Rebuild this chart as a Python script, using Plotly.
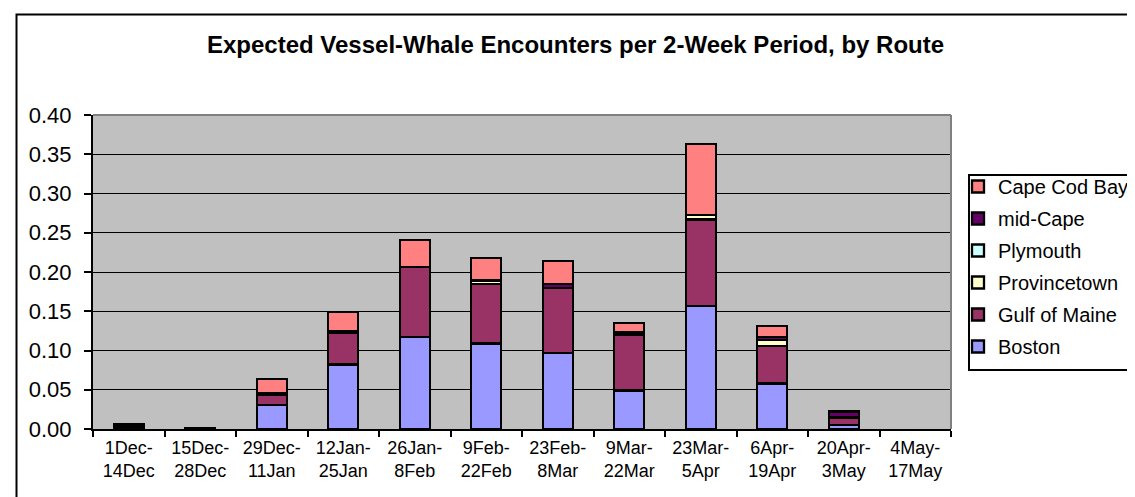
import plotly.graph_objects as go

periods = ["1Dec-<br>14Dec", "15Dec-<br>28Dec", "29Dec-<br>11Jan", "12Jan-<br>25Jan",
           "26Jan-<br>8Feb", "9Feb-<br>22Feb", "23Feb-<br>8Mar", "9Mar-<br>22Mar",
           "23Mar-<br>5Apr", "6Apr-<br>19Apr", "20Apr-<br>3May", "4May-<br>17May"]

boston = [0.001, 0.0005, 0.031, 0.082, 0.117, 0.109, 0.097, 0.049, 0.157, 0.058, 0.005, None]
gulf_of_maine = [0.001, None, 0.012, 0.040, 0.089, 0.076, 0.083, 0.071, 0.110, 0.048, 0.0095, None]
provincetown = [None, None, None, None, None, 0.004, None, None, 0.006, 0.007, None, None]
plymouth = [None, None, None, None, None, None, None, None, None, None, None, None]
mid_cape = [0.003, 0.001, 0.003, 0.003, None, None, 0.005, 0.003, None, 0.004, 0.0075, None]
cape_cod_bay = [0.001, None, 0.018, 0.024, 0.035, 0.029, 0.029, 0.012, 0.090, 0.014, 0.001, None]

series = [
    ("Boston", boston, "#9999FF"),
    ("Gulf of Maine", gulf_of_maine, "#993366"),
    ("Provincetown", provincetown, "#FFFFCC"),
    ("Plymouth", plymouth, "#CCFFFF"),
    ("mid-Cape", mid_cape, "#660066"),
    ("Cape Cod Bay", cape_cod_bay, "#FF8080"),
]

W, H = 1135, 497
L, R, T, B = 85, 943, 107, 421
PW, PH = R - L, B - T


def px(x):
    return (x - L) / PW


def py(y):
    return (B - y) / PH


fig = go.Figure()
for i, (name, vals, col) in enumerate(series):
    fig.add_trace(go.Bar(
        x=periods, y=vals, name=name, legendgroup=name,
        legendrank=1000 - i,
        marker=dict(color=col, line=dict(color="black", width=2.3)),
    ))

shapes = [
    # outer chart frame
    dict(type="rect", xref="paper", yref="paper",
         x0=px(8.5), x1=px(1140), y0=py(505), y1=py(6.5),
         line=dict(color="black", width=2), fillcolor="rgba(0,0,0,0)", layer="above"),
    # plot area top and right border (gray)
    dict(type="line", xref="paper", yref="paper", x0=0, x1=1, y0=1, y1=1,
         line=dict(color="#808080", width=2), layer="above"),
    dict(type="line", xref="paper", yref="paper", x0=1, x1=1, y0=0, y1=1,
         line=dict(color="#808080", width=2), layer="above"),
    # legend box
    dict(type="rect", xref="paper", yref="paper",
         x0=px(961), x1=px(1145), y0=py(362), y1=py(167),
         line=dict(color="black", width=2), fillcolor="white", layer="below"),
]

fig.update_layout(
    width=W, height=H,
    margin=dict(l=L, r=W - R, t=T, b=H - B, autoexpand=False),
    paper_bgcolor="white",
    plot_bgcolor="#C0C0C0",
    barmode="stack",
    bargap=0.58,
    font=dict(family="Liberation Sans, Arial, sans-serif", color="black"),
    title=dict(text="<b>Expected Vessel-Whale Encounters per 2-Week Period, by Route</b>",
               x=0.5, xref="container", xanchor="center",
               y=1 - 37 / H, yref="container", yanchor="middle",
               font=dict(size=24, color="black")),
    legend=dict(traceorder="grouped", tracegroupgap=3,
                x=px(950), y=py(159), xanchor="left", yanchor="top",
                xref="paper", yref="paper",
                font=dict(size=20, color="black"), bgcolor="rgba(0,0,0,0)",
                borderwidth=0, itemclick=False),
    shapes=shapes,
    xaxis=dict(showline=True, linecolor="black", linewidth=2,
               ticks="outside", tickson="boundaries", ticklen=6, tickwidth=2, tickcolor="black",
               tickfont=dict(size=18), showgrid=False, ticklabelstandoff=1),
    yaxis=dict(range=[0, 0.4], dtick=0.05, tickformat=".2f",
               showline=True, linecolor="black", linewidth=2,
               ticks="outside", ticklen=7, tickwidth=2, tickcolor="black",
               tickfont=dict(size=22), showgrid=True, gridcolor="black", gridwidth=1,
               zeroline=False, ticklabelstandoff=8),
)

fig.write_html("out.html")
